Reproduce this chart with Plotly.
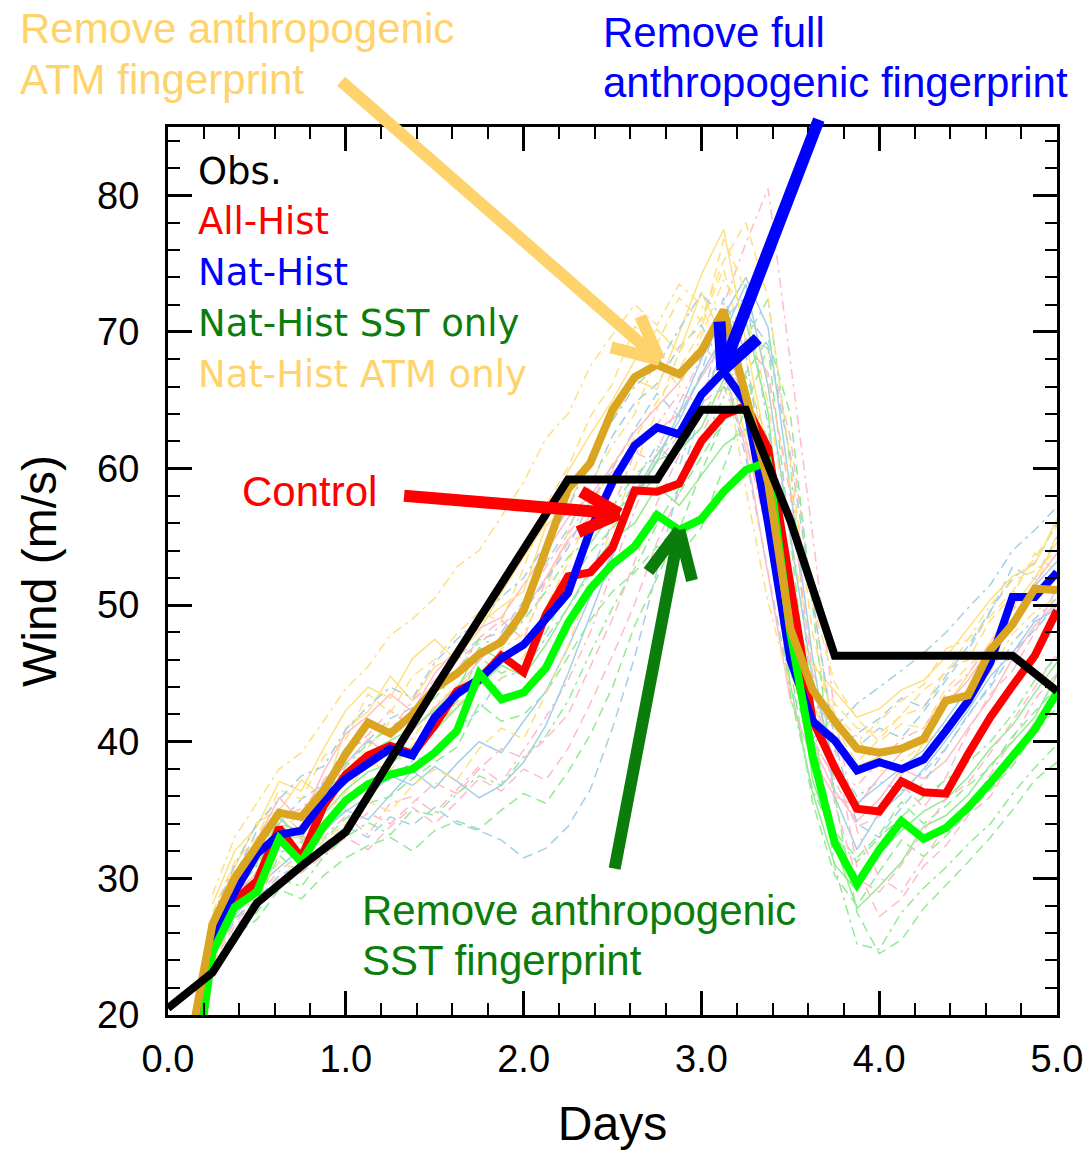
import plotly.graph_objects as go

# ---------------- data ----------------
days_model = [0.125 * i for i in range(1, 41)]          # 0.125 .. 5.0
days_member = [0.125 * i for i in range(2, 41)]         # 0.25 .. 5.0
days_obs = [0.0, 0.25, 0.5, 0.75, 1.0, 1.25, 1.5, 1.75, 2.0, 2.25, 2.5, 2.75,
            3.0, 3.25, 3.5, 3.75, 4.0, 4.25, 4.5, 4.75, 5.0]

obs = [20.5, 23.1, 28.2, 30.9, 33.4, 38.7, 43.9, 49.0, 54.1, 59.2, 59.2, 59.2,
       64.3, 64.3, 56.2, 46.3, 46.3, 46.3, 46.3, 46.3, 43.7]

all_hist = [18.0, 25.5, 28.4, 29.8, 33.7, 31.5, 35.3, 37.6, 39.0, 39.7, 39.1, 41.2,
            43.7, 44.5, 46.3, 45.1, 49.3, 52.1, 52.4, 54.2, 58.4, 58.3, 58.9, 62.0,
            63.9, 64.6, 61.5, 51.5, 41.6, 38.1, 35.1, 34.9, 37.1, 36.3, 36.2, 39.1,
            41.8, 44.1, 46.3, 49.6]
nat_hist = [18.0, 25.5, 29.0, 31.8, 33.2, 33.5, 35.7, 37.3, 38.4, 39.5, 39.0, 41.8,
            43.5, 44.6, 46.1, 47.1, 49.0, 50.9, 55.5, 59.0, 61.7, 63.0, 62.5, 65.4,
            67.1, 64.8, 56.0, 46.0, 41.5, 40.1, 37.9, 38.5, 38.0, 38.7, 40.8, 43.0,
            45.8, 50.6, 50.6, 52.4]
nat_sst = [13.0, 24.6, 27.9, 29.0, 32.9, 31.2, 33.8, 35.7, 36.9, 37.6, 38.0, 39.2,
           40.8, 45.0, 43.1, 43.6, 45.4, 48.7, 51.2, 53.0, 54.3, 56.6, 55.5, 56.3,
           58.3, 59.9, 60.5, 48.0, 39.0, 32.6, 29.6, 32.1, 34.2, 32.9, 33.7, 35.2,
           37.0, 38.9, 40.9, 43.6]
nat_atm = [17.9, 26.65, 30.0, 32.3, 34.8, 34.5, 36.4, 39.1, 41.4, 40.6, 42.0, 43.9,
           45.0, 46.4, 47.3, 49.6, 54.0, 58.5, 60.4, 64.3, 66.7, 67.6, 66.9, 68.6,
           71.6, 65.2, 59.0, 48.3, 43.8, 41.5, 39.5, 39.2, 39.5, 40.2, 43.0, 43.4,
           46.7, 48.6, 51.2, 51.1]

# ensemble members (thin lines), 0.25 .. 5.0
atm_members = [
    [27.5, 31.2, 33.0, 36.5, 35.8, 38.9, 40.2, 43.5, 42.1, 44.8, 46.0, 47.9, 49.5, 48.8, 52.7, 57.3, 60.1, 63.8, 66.2, 70.4, 69.1, 72.5, 70.8, 74.6, 68.0, 60.2, 47.5, 44.9, 42.8, 41.0, 40.6, 41.9, 42.5, 45.3, 46.0, 48.9, 50.7, 53.8, 52.4],
    [25.8, 29.1, 31.5, 33.2, 34.9, 35.1, 37.8, 39.6, 41.5, 40.2, 42.7, 44.1, 45.0, 46.8, 47.9, 51.2, 55.4, 58.9, 61.7, 64.0, 68.3, 65.9, 69.7, 73.8, 71.5, 64.8, 55.2, 46.1, 42.0, 40.4, 37.8, 38.6, 39.8, 41.2, 42.8, 45.1, 47.9, 49.5, 50.6],
    [26.9, 30.8, 34.1, 35.0, 37.2, 36.0, 41.0, 42.2, 44.8, 43.0, 45.5, 46.3, 48.1, 50.9, 53.5, 56.0, 59.8, 62.5, 65.0, 67.9, 70.2, 68.5, 72.9, 69.4, 62.1, 55.7, 46.9, 42.5, 40.1, 38.2, 38.9, 37.5, 39.9, 42.6, 44.9, 47.3, 49.8, 52.0, 54.6],
    [24.7, 28.4, 30.2, 32.6, 33.1, 34.7, 36.3, 38.5, 37.9, 39.8, 41.0, 42.7, 44.0, 44.6, 46.2, 49.8, 53.1, 56.9, 60.4, 62.2, 64.9, 67.3, 70.1, 76.8, 73.0, 66.5, 58.7, 50.2, 44.3, 41.7, 40.0, 41.3, 41.0, 43.9, 45.5, 47.0, 49.6, 51.3, 55.2],
    [28.1, 32.0, 33.8, 37.1, 36.4, 39.5, 42.3, 44.0, 43.2, 46.1, 47.5, 45.9, 48.6, 49.9, 51.0, 55.8, 57.2, 61.0, 63.6, 66.5, 65.8, 69.9, 74.2, 77.5, 69.3, 61.0, 49.8, 45.6, 43.7, 41.8, 42.4, 43.8, 44.5, 46.2, 48.3, 50.4, 52.1, 53.0, 56.3],
    [24.0, 27.5, 29.0, 31.2, 30.5, 32.8, 34.0, 35.6, 34.9, 36.8, 38.0, 37.2, 39.5, 41.0, 40.2, 43.5, 47.0, 51.5, 55.8, 60.0, 64.2, 68.5, 71.0, 75.2, 78.0, 72.5, 60.5, 48.0, 41.0, 38.5, 40.2, 42.0, 43.8, 45.0, 47.5, 49.2, 51.0, 53.5, 55.8],
    [28.8, 33.0, 35.5, 38.0, 39.2, 41.5, 43.9, 45.5, 47.8, 49.0, 50.5, 52.8, 54.0, 56.5, 59.0, 62.2, 64.0, 67.5, 69.8, 72.0, 70.5, 73.5, 72.0, 68.0, 58.5, 50.2, 44.0, 42.5, 41.2, 40.0, 41.5, 43.0, 44.2, 46.8, 47.5, 50.0, 51.8, 52.5, 54.0],
]
nat_members = [
    [26.3, 30.2, 33.5, 34.0, 35.8, 36.9, 39.6, 40.1, 41.7, 42.5, 44.0, 46.2, 47.5, 48.0, 50.3, 53.1, 55.6, 58.7, 62.4, 64.8, 66.2, 68.9, 70.5, 67.3, 60.8, 52.4, 44.0, 40.2, 41.9, 39.6, 41.0, 40.3, 42.2, 44.5, 46.7, 49.5, 52.8, 51.9, 55.0],
    [24.1, 27.6, 30.5, 31.9, 32.4, 34.0, 35.5, 36.8, 37.2, 38.6, 39.1, 41.0, 42.3, 44.7, 45.2, 47.6, 49.8, 52.3, 56.1, 59.0, 61.7, 60.2, 64.8, 70.9, 72.6, 63.1, 50.7, 42.8, 38.5, 36.0, 37.1, 36.4, 37.8, 39.5, 41.9, 44.2, 47.3, 49.0, 50.5],
    [25.0, 28.3, 30.1, 32.5, 31.8, 33.6, 34.9, 36.0, 37.5, 36.8, 38.2, 37.1, 35.9, 36.8, 38.5, 41.2, 45.0, 49.3, 53.6, 57.8, 60.5, 64.1, 68.0, 71.2, 74.0, 70.3, 58.5, 46.2, 36.0, 32.1, 34.8, 36.2, 38.0, 40.1, 42.3, 44.8, 46.5, 48.8, 49.7],
    [26.8, 29.9, 32.6, 35.1, 34.2, 37.0, 38.4, 40.0, 39.1, 41.3, 43.6, 44.9, 46.8, 47.2, 49.5, 51.8, 54.2, 57.6, 60.0, 62.9, 65.5, 63.8, 67.0, 72.5, 68.4, 57.9, 45.5, 41.0, 39.3, 40.6, 41.7, 43.2, 42.5, 44.8, 47.0, 49.6, 52.0, 53.1, 56.0],
    [24.6, 27.2, 29.4, 30.8, 32.2, 33.4, 35.0, 34.3, 36.1, 37.9, 36.6, 38.4, 40.0, 39.2, 41.5, 43.7, 46.9, 50.6, 53.8, 58.2, 61.0, 63.5, 66.9, 69.8, 73.5, 66.0, 55.1, 44.6, 38.2, 35.5, 36.8, 38.1, 39.4, 41.6, 43.9, 46.1, 48.7, 51.4, 53.2],
    [24.2, 27.0, 28.5, 30.2, 31.0, 32.5, 33.8, 33.0, 34.5, 33.9, 35.2, 34.0, 33.5, 32.8, 31.5, 32.2, 33.8, 36.5, 41.0, 46.2, 52.5, 58.8, 64.5, 69.0, 71.5, 69.0, 61.0, 50.5, 40.0, 34.0, 33.0, 35.2, 37.0, 39.5, 42.0, 44.0, 46.5, 48.2, 50.0],
    [27.2, 31.0, 34.0, 35.8, 37.5, 38.2, 40.9, 42.6, 44.0, 43.2, 45.8, 47.5, 49.0, 50.6, 52.0, 54.5, 57.0, 60.8, 63.5, 66.0, 67.5, 70.2, 72.8, 71.0, 63.5, 55.0, 47.5, 43.0, 41.0, 42.8, 44.0, 45.2, 46.5, 48.0, 49.8, 51.5, 54.0, 55.5, 57.2],
]
all_members = [
    [26.0, 29.5, 31.2, 35.0, 33.4, 37.2, 39.1, 40.5, 42.3, 41.0, 43.9, 45.2, 47.6, 48.9, 47.5, 51.8, 54.6, 55.3, 57.0, 61.2, 60.4, 62.5, 65.8, 67.0, 66.2, 60.1, 49.0, 40.3, 37.2, 33.8, 34.5, 36.9, 35.2, 37.4, 40.8, 43.5, 45.2, 48.0, 51.3],
    [24.3, 27.0, 28.8, 30.5, 31.9, 33.0, 34.6, 33.2, 35.5, 36.0, 34.8, 36.5, 38.2, 37.0, 39.4, 41.8, 44.5, 48.0, 52.6, 56.9, 61.3, 64.8, 68.2, 72.0, 76.5, 80.5, 68.0, 55.2, 42.0, 33.5, 30.1, 29.0, 31.5, 33.8, 35.0, 37.6, 40.2, 43.1, 45.0],
    [25.7, 28.9, 30.4, 34.6, 32.8, 36.1, 38.4, 40.2, 38.9, 40.8, 42.5, 44.0, 45.9, 47.8, 49.6, 52.0, 54.8, 56.5, 58.9, 61.5, 62.8, 64.0, 66.7, 69.2, 65.0, 56.8, 46.3, 39.8, 36.4, 34.2, 35.8, 38.0, 37.3, 38.6, 41.0, 43.2, 46.1, 48.5, 50.2],
    [23.8, 26.5, 28.0, 29.6, 30.4, 31.7, 33.0, 32.1, 33.8, 35.2, 34.0, 35.6, 37.3, 36.4, 38.0, 37.2, 39.5, 42.8, 46.3, 50.1, 54.6, 58.2, 62.4, 66.0, 69.5, 68.8, 62.3, 50.5, 39.7, 30.8, 27.2, 28.5, 30.9, 32.4, 34.6, 36.0, 38.8, 41.5, 43.6],
    [26.4, 30.1, 32.8, 35.9, 34.2, 37.8, 40.6, 41.9, 43.5, 42.2, 45.0, 46.8, 48.3, 49.1, 51.5, 53.9, 56.4, 58.0, 60.2, 62.7, 64.5, 66.3, 69.0, 67.5, 61.4, 52.3, 43.1, 38.7, 36.0, 35.3, 37.4, 39.2, 40.1, 42.7, 44.5, 46.9, 49.0, 51.6, 53.8],
    [24.0, 26.8, 28.3, 30.0, 30.8, 32.4, 33.5, 34.8, 34.0, 35.5, 37.0, 36.2, 38.0, 39.5, 38.8, 40.2, 42.0, 45.5, 49.0, 53.2, 57.5, 61.0, 65.5, 68.5, 69.2, 67.0, 58.0, 45.0, 35.5, 30.0, 29.0, 31.0, 33.5, 35.8, 37.0, 39.2, 41.5, 44.0, 46.5],
    [26.9, 30.5, 32.0, 34.5, 35.1, 36.8, 39.5, 41.5, 40.8, 43.0, 44.5, 46.0, 47.2, 48.5, 50.0, 52.8, 55.2, 57.5, 59.8, 61.0, 63.2, 65.5, 64.8, 66.0, 62.0, 55.0, 45.2, 40.0, 37.5, 36.8, 38.5, 40.2, 41.0, 43.5, 45.0, 47.2, 49.8, 50.5, 52.0],
]
sst_members = [
    [25.3, 28.6, 30.5, 33.8, 32.6, 35.0, 37.2, 38.5, 39.8, 39.0, 41.4, 42.9, 46.2, 45.0, 45.8, 48.0, 51.3, 53.9, 55.6, 57.8, 59.4, 58.2, 60.9, 63.5, 66.8, 62.0, 45.5, 35.6, 30.2, 28.0, 30.5, 32.8, 31.6, 33.1, 34.8, 36.5, 38.2, 40.7, 42.5],
    [23.5, 26.2, 27.5, 30.0, 29.4, 31.6, 33.0, 34.1, 33.2, 35.0, 34.6, 36.2, 37.5, 36.8, 38.9, 40.4, 43.0, 46.5, 49.8, 52.7, 55.9, 58.6, 61.8, 65.2, 69.5, 72.4, 60.3, 42.1, 30.8, 25.2, 24.8, 27.5, 29.3, 30.8, 32.5, 34.0, 36.2, 38.1, 39.8],
    [24.9, 28.3, 29.8, 33.5, 31.9, 34.7, 36.5, 37.8, 38.4, 39.6, 40.8, 42.5, 44.1, 45.6, 44.8, 47.1, 49.9, 52.6, 54.8, 56.0, 58.7, 57.3, 59.5, 61.7, 62.9, 57.5, 44.2, 36.3, 31.0, 29.1, 31.8, 33.5, 34.9, 35.8, 37.4, 39.5, 41.2, 43.6, 45.8],
    [24.0, 27.1, 28.2, 31.7, 30.3, 32.8, 34.4, 35.5, 36.0, 37.3, 38.5, 39.6, 42.8, 41.5, 42.0, 43.6, 46.2, 48.9, 51.0, 52.4, 54.3, 53.6, 55.7, 60.1, 64.4, 68.9, 55.0, 40.5, 33.4, 31.5, 33.2, 35.6, 34.0, 35.3, 36.8, 38.1, 40.4, 42.2, 44.0],
    [26.0, 29.3, 31.1, 34.4, 33.0, 35.6, 37.9, 39.2, 40.1, 41.0, 42.3, 43.8, 46.9, 46.0, 47.4, 49.2, 52.0, 54.5, 56.8, 58.0, 60.6, 61.3, 63.0, 66.5, 70.8, 64.1, 49.6, 37.2, 32.5, 27.8, 29.4, 31.2, 33.8, 34.6, 36.1, 38.3, 40.0, 41.8, 44.9],
    [23.2, 25.8, 27.0, 29.2, 28.5, 30.2, 31.5, 32.4, 33.0, 32.0, 33.5, 34.2, 33.6, 35.0, 36.2, 35.5, 37.8, 40.5, 44.0, 48.5, 52.0, 55.5, 59.8, 63.5, 67.0, 69.5, 64.0, 50.0, 36.0, 27.5, 24.5, 25.5, 27.8, 29.5, 31.2, 33.0, 35.0, 37.2, 38.5],
    [25.6, 29.0, 30.9, 34.0, 33.5, 36.0, 38.2, 39.9, 41.0, 41.8, 43.2, 45.0, 47.5, 47.0, 48.9, 51.0, 53.5, 55.0, 57.2, 59.5, 61.0, 62.8, 64.0, 66.0, 64.5, 56.0, 43.5, 36.5, 33.0, 31.2, 33.0, 34.5, 36.0, 37.2, 38.5, 40.0, 42.0, 44.5, 46.2],
]

legend_labels = ["Obs.", "All-Hist", "Nat-Hist", "Nat-Hist SST only", "Nat-Hist ATM only"]

# ---------------- styles ----------------
C_RED, C_BLUE, C_LIME, C_GOLD, C_BLACK = "#FF0000", "#0000FF", "#00FF00", "#DAA520", "#000000"
C_DKGREEN, C_LTGOLD = "#0B7D0B", "#FFD36B"
thin_colors = {"atm": "#FFE080", "nat": "#A3D0E6", "all": "#FFBCC8", "sst": "#92EA92"}
dashes = ["solid", "10px,6px", "solid", "10px,6px", "10px,5px,3px,5px"]

fig = go.Figure()

groups = [("all", all_members), ("nat", nat_members), ("sst", sst_members), ("atm", atm_members)]
for k in range(7):
    for name, mem in groups:
        fig.add_trace(go.Scatter(x=days_member, y=mem[k], mode="lines",
                                 line=dict(color=thin_colors[name], width=1.5, dash=dashes[(k + len(name)) % 5]),
                                 hoverinfo="skip", showlegend=False))

for ys, col in [(all_hist, C_RED), (nat_hist, C_BLUE), (nat_sst, C_LIME), (nat_atm, C_GOLD)]:
    fig.add_trace(go.Scatter(x=days_model, y=ys, mode="lines",
                             line=dict(color=col, width=8), showlegend=False))
fig.add_trace(go.Scatter(x=days_obs, y=obs, mode="lines",
                         line=dict(color=C_BLACK, width=8), showlegend=False))

# ---------------- annotations ----------------
W, H = 1088, 1150
L, R, T, B = 168, 31, 127, 135
pw, ph = W - L - R, H - T - B


def px2paper(px, py):
    return (px - L) / pw, (H - B - py) / ph


anns = []
leg_cols = [C_BLACK, C_RED, C_BLUE, C_DKGREEN, C_LTGOLD]
leg_y = [171, 222, 272, 323, 374]
for lab, col, yy in zip(legend_labels, leg_cols, leg_y):
    xp, yp = px2paper(196, yy)
    anns.append(dict(x=xp, y=yp, xref="paper", yref="paper", text=lab, showarrow=False,
                     xanchor="left", yanchor="middle",
                     font=dict(family="DejaVu Sans", size=37, color=col)))

texts = [("Remove anthropogenic", 18, 29, C_LTGOLD),
         ("ATM fingerprint", 18, 80, C_LTGOLD),
         ("Remove full", 601, 32, C_BLUE),
         ("anthropogenic fingerprint", 601, 82, C_BLUE),
         ("Control", 240, 491, C_RED),
         ("Remove anthropogenic", 360, 910, C_DKGREEN),
         ("SST fingerprint", 360, 960, C_DKGREEN)]
for t, xx, yy, col in texts:
    xp, yp = px2paper(xx, yy)
    anns.append(dict(x=xp, y=yp, xref="paper", yref="paper", text=t, showarrow=False,
                     xanchor="left", yanchor="middle",
                     font=dict(family="Liberation Sans, Arial", size=42, color=col)))

# arrows: tip in data coordinates; shaft and two barbs as pixel offsets from the tip
arrows = [
    (2.765, 67.95, C_LTGOLD, [(-320, -280), (-20, -45), (-50, -13)]),
    (3.118, 67.2, C_BLUE, [(97, -252), (-3, -50), (37, -33)]),
    (2.54, 56.7, C_RED, [(-217, -18), (-40, -23), (-43, 19)]),
    (2.876, 55.5, C_DKGREEN, [(-65, 340), (-32, 43), (13, 52)]),
]
for xh, yh, col, segs in arrows:
    for axp, ayp in segs:
        anns.append(dict(x=xh, y=yh, xref="x", yref="y", ax=axp, ay=ayp, text="",
                         showarrow=True, arrowhead=0, arrowwidth=12,
                         arrowcolor=col, standoff=0, startstandoff=0))

axis_common = dict(showline=True, linewidth=3, linecolor="black", mirror="ticks",
                   ticks="inside", ticklen=24, tickwidth=3, tickcolor="black",
                   showgrid=False, zeroline=False, automargin=False,
                   tickfont=dict(family="Liberation Sans, Arial", size=38, color="black"))

fig.update_layout(
    width=W, height=H, autosize=False,
    margin=dict(l=L, r=R, t=T, b=B, pad=0),
    paper_bgcolor="white", plot_bgcolor="white",
    showlegend=False,
    annotations=anns,
    xaxis=dict(range=[0, 5], dtick=1, tick0=0, tickformat=".1f",
               minor=dict(ticks="inside", ticklen=12, tickwidth=2, dtick=0.2, tickcolor="black"),
               title=dict(text="Days", font=dict(family="Liberation Sans, Arial", size=48, color="black"), standoff=29),
               ticklabelstandoff=8,
               **axis_common),
    yaxis=dict(range=[20, 85], dtick=10, tick0=20,
               minor=dict(ticks="inside", ticklen=12, tickwidth=2, dtick=2, tickcolor="black"),
               title=dict(text="Wind (m/s)", font=dict(family="Liberation Sans, Arial", size=48, color="black"), standoff=26),
               ticklabelstandoff=18,
               **axis_common),
)

fig.write_html("out.html")
